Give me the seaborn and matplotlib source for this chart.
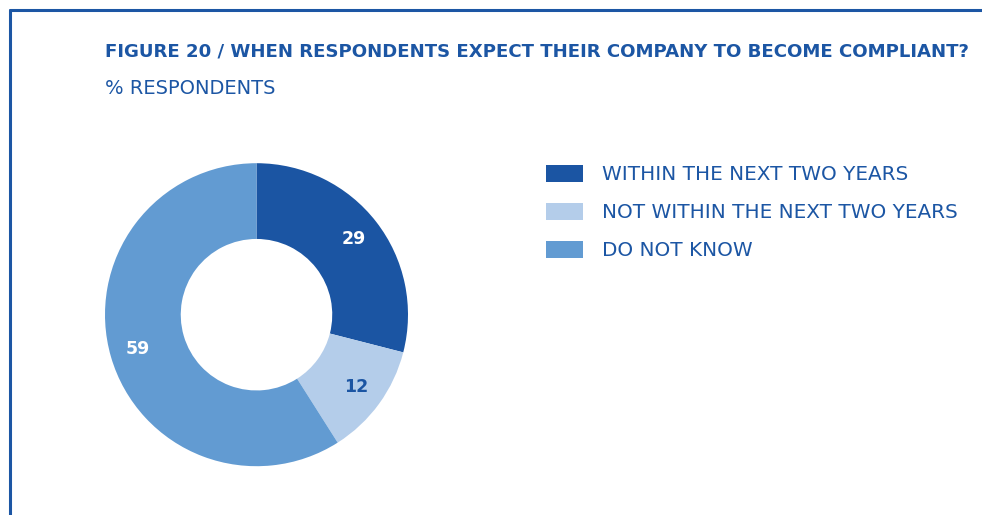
import matplotlib
matplotlib.use("Agg")
import matplotlib.pyplot as plt
import seaborn as sns

sns.set_theme(style="white")
plt.rcParams["font.family"] = ["DejaVu Sans"]

# Survey answers (% respondents)
categories = ["WITHIN THE NEXT TWO YEARS", "NOT WITHIN THE NEXT TWO YEARS", "DO NOT KNOW"]
values = [29, 12, 59]
colors = ["#1b55a3", "#b4cdea", "#629bd2"]
label_colors = ["white", "#1b55a3", "white"]

title = "FIGURE 20 / WHEN RESPONDENTS EXPECT THEIR COMPANY TO BECOME COMPLIANT?"
subtitle = "% RESPONDENTS"
text_blue = "#1c56a4"

W, H = 982, 515
fig = plt.figure(figsize=(W / 100, H / 100), dpi=100)
fig.patch.set_facecolor("white")

# frame lines on the left and top
fig.add_artist(plt.Line2D([10 / W, 10 / W], [0, 1 - 9.5 / H], color=text_blue, lw=2.2,
                          transform=fig.transFigure))
fig.add_artist(plt.Line2D([10 / W, 1], [1 - 9.5 / H, 1 - 9.5 / H], color=text_blue, lw=2.2,
                          transform=fig.transFigure))

fig.text(105 / W, 1 - 51 / H, title, color=text_blue, fontsize=13.1, fontweight="bold",
         va="center", ha="left")
fig.text(105 / W, 1 - 88.5 / H, subtitle, color=text_blue, fontsize=14.0,
         va="center", ha="left")

cx, cy, r = 256.5, H - 314.7, 151.5
ax = fig.add_axes([(cx - r) / W, (cy - r) / H, 2 * r / W, 2 * r / H])
wedges, _, autotexts = ax.pie(
    values, colors=colors, startangle=90, counterclock=False,
    wedgeprops=dict(width=0.5, linewidth=0), radius=1,
    autopct=lambda p: f"{p:.0f}", pctdistance=0.815,
    textprops=dict(fontsize=12.5, fontweight="bold"),
)
for t, c in zip(autotexts, label_colors):
    t.set_color(c)
ax.set_xlim(-1, 1)
ax.set_ylim(-1, 1)
ax.set_aspect("equal")
ax.axis("off")

fs = 14.4
px = fs * 100 / 72
leg = fig.legend(
    wedges, categories, loc="upper left",
    bbox_to_anchor=(546 / W, 1 - 164.5 / H), bbox_transform=fig.transFigure,
    frameon=False, fontsize=fs, labelcolor=text_blue,
    handlelength=37 / px, handleheight=19 / px,
    handletextpad=19 / px, labelspacing=(38.5 - 20) / px, borderpad=0, borderaxespad=0,
)

fig.savefig("out.png", dpi=100, facecolor="white")
